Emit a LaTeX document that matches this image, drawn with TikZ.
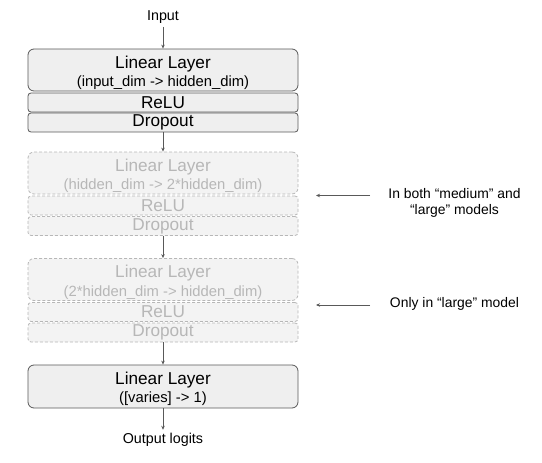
\documentclass[tikz,border=0pt]{standalone}
\usepackage{fontspec}
\setmainfont{Liberation Sans}
\usetikzlibrary{arrows.meta}
\definecolor{boxfill}{HTML}{EFEFEF}
\definecolor{ghostfill}{HTML}{F3F3F3}
\definecolor{edge}{HTML}{595959}
\definecolor{ghost}{HTML}{B7B7B7}
\begin{document}
\begin{tikzpicture}[x=1pt,y=-1pt,
  base/.style={rectangle, inner sep=0pt, minimum width=270pt, line width=0.8pt, align=center},
  solidbox/.style={base, draw=edge, fill=boxfill, text=black},
  ghostbox/.style={base, draw=ghost, fill=ghostfill, text=ghost, dash pattern=on 3pt off 2pt},
  big/.style={font=\fontsize{17.2}{20}\selectfont},
  lin/.style={minimum height=42pt, rounded corners=6pt},
  thin/.style={minimum height=19pt, rounded corners=3pt, big},
  title/.style={anchor=base, inner sep=0pt, big},
  sub/.style={anchor=base, inner sep=0pt, font=\fontsize{14.8}{17}\selectfont},
  conn/.style={draw=edge, line width=0.8pt, -{Stealth[length=4pt,width=3.5pt]}},
  lbl/.style={font=\fontsize{14.3}{16.7}\selectfont, align=center},
  note/.style={font=\fontsize{13.9}{16.7}\selectfont, align=center}
]
\useasboundingbox (0,0) rectangle (542,463);

% Block 1
\node[solidbox, lin] (lin1) at (163,70) {};
\node[title] (lin1a) at (163,68.3) {Linear Layer};
\node[sub] (lin1b) at (163,86.7) {(input\_dim -> hidden\_dim)};
\node[solidbox, thin] (relu1) at (163,102.5) {ReLU};
\node[solidbox, thin] (drop1) at (163,122.5) {Dropout};

% Block 2
\node[ghostbox, lin] (lin2) at (163,173) {};
\node[title, text=ghost] (lin2a) at (163,171.3) {Linear Layer};
\node[sub, text=ghost] (lin2b) at (163,189.7) {(hidden\_dim -> 2*hidden\_dim)};
\node[ghostbox, thin] (relu2) at (163,205.5) {ReLU};
\node[ghostbox, thin] (drop2) at (163,226) {Dropout};

% Block 3
\node[ghostbox, lin] (lin3) at (163,279.5) {};
\node[title, text=ghost] (lin3a) at (163,277.8) {Linear Layer};
\node[sub, text=ghost] (lin3b) at (163,296.2) {(2*hidden\_dim -> hidden\_dim)};
\node[ghostbox, thin] (relu3) at (163,312) {ReLU};
\node[ghostbox, thin] (drop3) at (163,332.5) {Dropout};

% Final
\node[solidbox, lin, minimum height=43pt] (lin4) at (163,386.5) {};
\node[title] (lin4a) at (163,384.8) {Linear Layer};
\node[sub] (lin4b) at (163,402.5) {([varies] -> 1)};

% Labels
\node[lbl] (input) at (163,17) {Input};
\node[lbl] (output) at (163,440) {Output logits};

\draw[conn] (input) -- (lin1);
\draw[conn] (drop1) -- (lin2);
\draw[conn] (drop2) -- (lin3);
\draw[conn] (drop3) -- (lin4);
\draw[conn] (lin4) -- (output);

% Side notes
\node[note] (note1) at (454.5,203) {In both “medium” and\\“large” models};
\node[note] (note2) at (454.5,304) {Only in “large” model};
\coordinate (a1s) at (370,195.5);
\coordinate (a1e) at (316,195.5);
\coordinate (a2s) at (370,305);
\coordinate (a2e) at (316,305);
\draw[conn] (a1s) -- (a1e);
\draw[conn] (a2s) -- (a2e);
\end{tikzpicture}
\end{document}
